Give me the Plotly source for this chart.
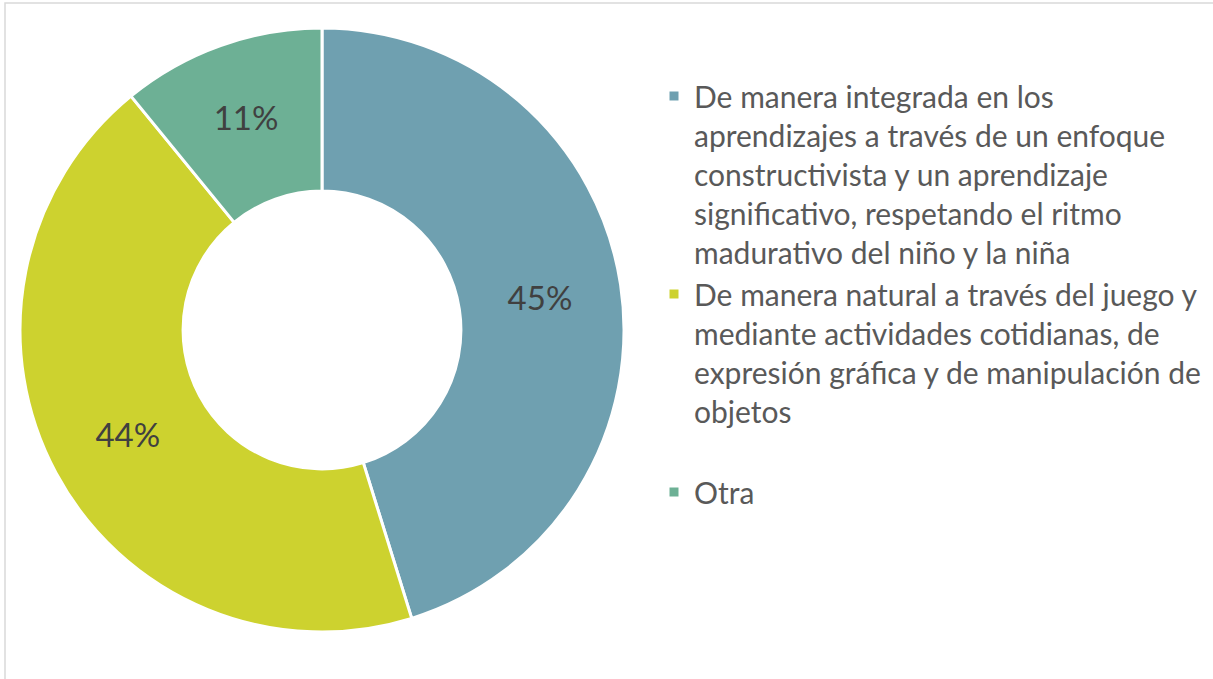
import plotly.graph_objects as go

labels = [
    "De manera integrada en los<br>aprendizajes a través de un enfoque<br>constructivista y un aprendizaje<br>significativo, respetando el ritmo<br>madurativo del niño y la niña",
    "De manera natural a través del juego y<br>mediante actividades cotidianas, de<br>expresión gráfica y de manipulación de<br>objetos<br> ",
    "Otra",
]
values = [45.2, 43.9, 10.9]
colors = ["#6FA0B0", "#CDD22F", "#6DB095"]

W, H = 1213, 679

fig = go.Figure()
fig.add_trace(
    go.Pie(
        labels=labels,
        values=values,
        hole=0.46,
        sort=False,
        direction="clockwise",
        rotation=0,
        marker=dict(colors=colors, line=dict(color="white", width=3)),
        texttemplate="%{percent:.0%}",
        textposition="inside",
        insidetextorientation="horizontal",
        textfont=dict(color="#404040", size=33, family="Lato"),
        domain=dict(x=[20 / W, 624 / W], y=[1 - 632 / H, 1 - 28 / H]),
        hoverinfo="label+percent",
    )
)

# marco gris alrededor del grafico
fig.add_shape(
    type="rect", xref="paper", yref="paper",
    x0=5 / W, x1=1.02, y0=-0.02, y1=1 - 3 / H,
    line=dict(color="#D9D9D9", width=1.5),
)

fig.update_layout(
    width=W,
    height=H,
    margin=dict(l=0, r=0, t=0, b=0),
    paper_bgcolor="white",
    plot_bgcolor="white",
    font=dict(family="Lato", color="#404040"),
    legend=dict(
        x=654 / W,
        y=1 - 70 / H,
        xanchor="left",
        yanchor="top",
        valign="top",
        font=dict(size=30, color="#595959", family="Lato"),
        itemwidth=30,
        tracegroupgap=0,
    ),
)

# sin margen del body para que el grafico quede en 0,0
fig.write_html(
    "out.html",
    config={"displayModeBar": False},
    post_script="document.body.style.margin='0px';",
)
